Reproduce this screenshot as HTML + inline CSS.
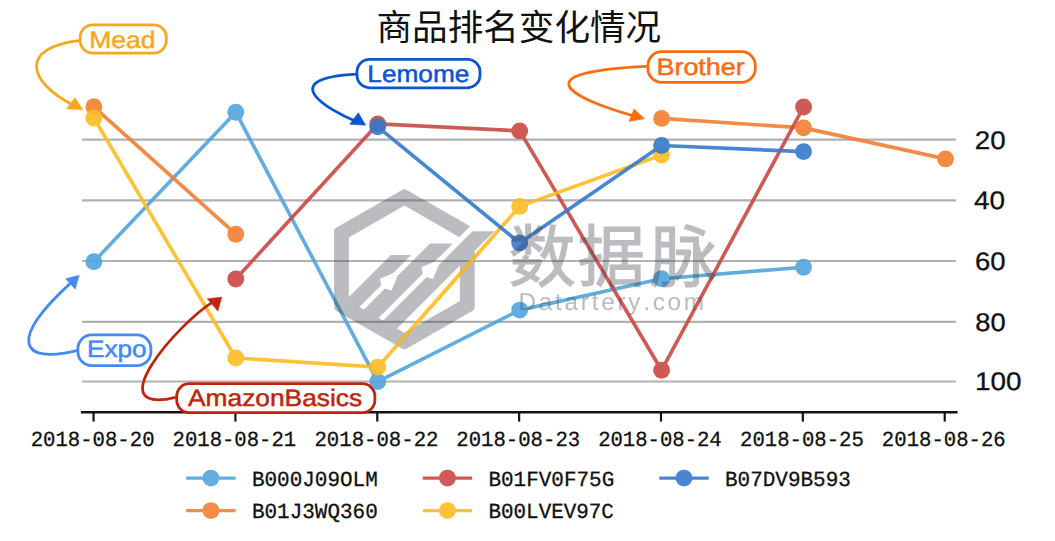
<!DOCTYPE html>
<html lang="zh"><head><meta charset="utf-8"><title>商品排名变化情况</title>
<style>html,body{margin:0;padding:0;background:#fff;overflow:hidden}svg{display:block}</style></head>
<body>
<svg width="1055" height="541" viewBox="0 0 1055 541" role="img" aria-label="商品排名变化情况">
<rect width="1055" height="541" fill="#fff"/>
<g stroke="#b1b1b1" stroke-width="2.1">
<line x1="82" x2="955.9" y1="139.60" y2="139.60"/>
<line x1="82" x2="955.9" y1="200.35" y2="200.35"/>
<line x1="82" x2="955.9" y1="261.00" y2="261.00"/>
<line x1="82" x2="955.9" y1="321.85" y2="321.85"/>
<line x1="82" x2="955.9" y1="381.45" y2="381.45"/>
</g>
<g opacity="0.90" fill="#52a5dd" stroke="#52a5dd" stroke-width="3.65" stroke-linejoin="round">
<polyline fill="none" points="93.85,261.65 235.79,112.20 377.73,381.60 519.67,310.10 661.61,278.70 803.55,267.20"/>
<circle stroke="none" cx="93.85" cy="261.65" r="8.45"/>
<circle stroke="none" cx="235.79" cy="112.20" r="8.45"/>
<circle stroke="none" cx="377.73" cy="381.60" r="8.45"/>
<circle stroke="none" cx="519.67" cy="310.10" r="8.45"/>
<circle stroke="none" cx="661.61" cy="278.70" r="8.45"/>
<circle stroke="none" cx="803.55" cy="267.20" r="8.45"/>
</g>
<g opacity="0.90" fill="#f37f30" stroke="#f37f30" stroke-width="3.65" stroke-linejoin="round">
<polyline fill="none" points="93.85,106.80 235.79,234.20"/>
<polyline fill="none" points="661.61,118.40 803.55,127.85 945.49,158.90"/>
<circle stroke="none" cx="93.85" cy="106.80" r="8.45"/>
<circle stroke="none" cx="235.79" cy="234.20" r="8.45"/>
<circle stroke="none" cx="661.61" cy="118.40" r="8.45"/>
<circle stroke="none" cx="803.55" cy="127.85" r="8.45"/>
<circle stroke="none" cx="945.49" cy="158.90" r="8.45"/>
</g>
<g opacity="0.90" fill="#ca4943" stroke="#ca4943" stroke-width="3.65" stroke-linejoin="round">
<polyline fill="none" points="235.79,278.95 377.73,123.90 519.67,130.90 661.61,370.20 803.55,107.00"/>
<circle stroke="none" cx="235.79" cy="278.95" r="8.45"/>
<circle stroke="none" cx="377.73" cy="123.90" r="8.45"/>
<circle stroke="none" cx="519.67" cy="130.90" r="8.45"/>
<circle stroke="none" cx="661.61" cy="370.20" r="8.45"/>
<circle stroke="none" cx="803.55" cy="107.00" r="8.45"/>
</g>
<g opacity="0.90" fill="#fdbc21" stroke="#fdbc21" stroke-width="3.65" stroke-linejoin="round">
<polyline fill="none" points="93.85,118.00 235.79,357.95 377.73,367.10 519.67,206.40 661.61,155.00"/>
<circle stroke="none" cx="93.85" cy="118.00" r="8.45"/>
<circle stroke="none" cx="235.79" cy="357.95" r="8.45"/>
<circle stroke="none" cx="377.73" cy="367.10" r="8.45"/>
<circle stroke="none" cx="519.67" cy="206.40" r="8.45"/>
<circle stroke="none" cx="661.61" cy="155.00" r="8.45"/>
</g>
<g opacity="0.90" fill="#347acb" stroke="#347acb" stroke-width="3.65" stroke-linejoin="round">
<polyline fill="none" points="377.73,126.80 519.67,243.00 661.61,145.50 803.55,151.60"/>
<circle stroke="none" cx="377.73" cy="126.80" r="8.45"/>
<circle stroke="none" cx="519.67" cy="243.00" r="8.45"/>
<circle stroke="none" cx="661.61" cy="145.50" r="8.45"/>
<circle stroke="none" cx="803.55" cy="151.60" r="8.45"/>
</g>
<line x1="80.9" x2="957.6" y1="412.3" y2="412.3" stroke="#141414" stroke-width="2.5"/>
<g stroke="#141414" stroke-width="2.2">
<line x1="93.56" x2="93.56" y1="412.3" y2="421.6"/>
<line x1="235.42" x2="235.42" y1="412.3" y2="421.6"/>
<line x1="377.28" x2="377.28" y1="412.3" y2="421.6"/>
<line x1="519.14" x2="519.14" y1="412.3" y2="421.6"/>
<line x1="661.00" x2="661.00" y1="412.3" y2="421.6"/>
<line x1="802.86" x2="802.86" y1="412.3" y2="421.6"/>
<line x1="944.72" x2="944.72" y1="412.3" y2="421.6"/>
</g>
<text transform="translate(30.71,446.25) scale(0.9597,1)" x="0.00 12.90 25.80 38.71 51.61 64.51 77.41 90.31 103.22 116.12" y="0" font-family='"Liberation Mono", monospace' font-size="21.50" text-rendering="geometricPrecision" fill="#111" stroke="#111" stroke-width="0.3">2018-08-20</text>
<text transform="translate(172.57,446.25) scale(0.9575,1)" x="0.00 12.90 25.80 38.71 51.61 64.51 77.41 90.31 103.22 116.12" y="0" font-family='"Liberation Mono", monospace' font-size="21.50" text-rendering="geometricPrecision" fill="#111" stroke="#111" stroke-width="0.3">2018-08-21</text>
<text transform="translate(314.43,446.25) scale(0.9612,1)" x="0.00 12.90 25.80 38.71 51.61 64.51 77.41 90.31 103.22 116.12" y="0" font-family='"Liberation Mono", monospace' font-size="21.50" text-rendering="geometricPrecision" fill="#111" stroke="#111" stroke-width="0.3">2018-08-22</text>
<text transform="translate(456.29,446.25) scale(0.9600,1)" x="0.00 12.90 25.80 38.71 51.61 64.51 77.41 90.31 103.22 116.12" y="0" font-family='"Liberation Mono", monospace' font-size="21.50" text-rendering="geometricPrecision" fill="#111" stroke="#111" stroke-width="0.3">2018-08-23</text>
<text transform="translate(598.15,446.25) scale(0.9579,1)" x="0.00 12.90 25.80 38.71 51.61 64.51 77.41 90.31 103.22 116.12" y="0" font-family='"Liberation Mono", monospace' font-size="21.50" text-rendering="geometricPrecision" fill="#111" stroke="#111" stroke-width="0.3">2018-08-24</text>
<text transform="translate(740.01,446.25) scale(0.9600,1)" x="0.00 12.90 25.80 38.71 51.61 64.51 77.41 90.31 103.22 116.12" y="0" font-family='"Liberation Mono", monospace' font-size="21.50" text-rendering="geometricPrecision" fill="#111" stroke="#111" stroke-width="0.3">2018-08-25</text>
<text transform="translate(881.87,446.25) scale(0.9602,1)" x="0.00 12.90 25.80 38.71 51.61 64.51 77.41 90.31 103.22 116.12" y="0" font-family='"Liberation Mono", monospace' font-size="21.50" text-rendering="geometricPrecision" fill="#111" stroke="#111" stroke-width="0.3">2018-08-26</text>
<text transform="translate(974.85,148.60) scale(1.0887,1)" x="0.00 14.18" y="0" font-family='"Liberation Sans", sans-serif' font-size="25.50" text-rendering="geometricPrecision" fill="#111" stroke="#111" stroke-width="0.3">20</text>
<text transform="translate(973.91,209.35) scale(1.0940,1)" x="0.00 14.18" y="0" font-family='"Liberation Sans", sans-serif' font-size="25.50" text-rendering="geometricPrecision" fill="#111" stroke="#111" stroke-width="0.3">40</text>
<text transform="translate(975.05,270.00) scale(1.0778,1)" x="0.00 14.18" y="0" font-family='"Liberation Sans", sans-serif' font-size="25.50" text-rendering="geometricPrecision" fill="#111" stroke="#111" stroke-width="0.3">60</text>
<text transform="translate(975.26,330.85) scale(1.0701,1)" x="0.00 14.18" y="0" font-family='"Liberation Sans", sans-serif' font-size="25.50" text-rendering="geometricPrecision" fill="#111" stroke="#111" stroke-width="0.3">80</text>
<text transform="translate(975.03,390.45) scale(1.0932,1)" x="0.00 14.18 28.36" y="0" font-family='"Liberation Sans", sans-serif' font-size="25.50" text-rendering="geometricPrecision" fill="#111" stroke="#111" stroke-width="0.3">100</text>
<line x1="186.20" x2="235.60" y1="478.10" y2="478.10" stroke="#63aee0" stroke-width="3.40"/>
<circle cx="210.90" cy="478.10" r="8.45" fill="#63aee0"/>
<text transform="translate(251.89,485.60) scale(0.9757,1)" x="0.00 12.90 25.80 38.71 51.61 64.51 77.41 90.31 103.22 116.12" y="0" font-family='"Liberation Mono", monospace' font-size="21.50" text-rendering="geometricPrecision" fill="#111" stroke="#111" stroke-width="0.3">B000J09OLM</text>
<line x1="186.20" x2="235.60" y1="510.60" y2="510.60" stroke="#f48c45" stroke-width="3.40"/>
<circle cx="210.90" cy="510.60" r="8.45" fill="#f48c45"/>
<text transform="translate(251.89,518.10) scale(0.9754,1)" x="0.00 12.90 25.80 38.71 51.61 64.51 77.41 90.31 103.22 116.12" y="0" font-family='"Liberation Mono", monospace' font-size="21.50" text-rendering="geometricPrecision" fill="#111" stroke="#111" stroke-width="0.3">B01J3WQ360</text>
<line x1="422.75" x2="472.15" y1="478.10" y2="478.10" stroke="#cf5b56" stroke-width="3.40"/>
<circle cx="447.45" cy="478.10" r="8.45" fill="#cf5b56"/>
<text transform="translate(488.44,485.60) scale(0.9754,1)" x="0.00 12.90 25.80 38.71 51.61 64.51 77.41 90.31 103.22 116.12" y="0" font-family='"Liberation Mono", monospace' font-size="21.50" text-rendering="geometricPrecision" fill="#111" stroke="#111" stroke-width="0.3">B01FV0F75G</text>
<line x1="422.75" x2="472.15" y1="510.60" y2="510.60" stroke="#fdc337" stroke-width="3.40"/>
<circle cx="447.45" cy="510.60" r="8.45" fill="#fdc337"/>
<text transform="translate(488.45,518.10) scale(0.9723,1)" x="0.00 12.90 25.80 38.71 51.61 64.51 77.41 90.31 103.22 116.12" y="0" font-family='"Liberation Mono", monospace' font-size="21.50" text-rendering="geometricPrecision" fill="#111" stroke="#111" stroke-width="0.3">B00LVEV97C</text>
<line x1="659.30" x2="708.70" y1="478.10" y2="478.10" stroke="#4887d0" stroke-width="3.40"/>
<circle cx="684.00" cy="478.10" r="8.45" fill="#4887d0"/>
<text transform="translate(724.99,485.60) scale(0.9757,1)" x="0.00 12.90 25.80 38.71 51.61 64.51 77.41 90.31 103.22 116.12" y="0" font-family='"Liberation Mono", monospace' font-size="21.50" text-rendering="geometricPrecision" fill="#111" stroke="#111" stroke-width="0.3">B07DV9B593</text>
<path d="M80.70,40.30 C18.28,47.35 27.88,81.97 73.28,105.20" fill="none" stroke="#f5a81d" stroke-width="2.80"/><path d="M82.84,109.74L75.02,97.74L66.48,108.66Z" fill="#f5a81d" stroke="#f5a81d" stroke-width="0.6" stroke-linejoin="round"/>
<path d="M356.50,74.10 C274.52,78.48 327.29,109.48 356.19,121.50" fill="none" stroke="#0b55d4" stroke-width="2.80"/><path d="M365.63,125.15L358.32,112.74L349.78,124.16Z" fill="#0b55d4" stroke="#0b55d4" stroke-width="0.6" stroke-linejoin="round"/>
<path d="M647.40,66.30 C506.13,72.62 589.48,103.86 634.58,116.08" fill="none" stroke="#f96d10" stroke-width="2.80"/><path d="M644.48,118.63L634.08,108.91L629.02,121.39Z" fill="#f96d10" stroke="#f96d10" stroke-width="0.6" stroke-linejoin="round"/>
<path d="M77.80,350.40 C19.53,364.53 7.54,340.44 72.14,281.64" fill="none" stroke="#4489f4" stroke-width="2.80"/><path d="M79.16,275.35L65.66,278.75L75.24,289.15Z" fill="#4489f4" stroke="#4489f4" stroke-width="0.6" stroke-linejoin="round"/>
<path d="M175.70,397.40 C97.56,416.15 177.37,323.63 213.72,301.34" fill="none" stroke="#c0250b" stroke-width="2.80"/><path d="M221.68,297.18L207.27,298.75L217.83,311.05Z" fill="#c0250b" stroke="#c0250b" stroke-width="0.6" stroke-linejoin="round"/>
<rect x="80.20" y="24.90" width="86.10" height="28.20" rx="12.60" ry="12.60" fill="#fff" stroke="#f5a81d" stroke-width="2.80"/><text transform="translate(89.17,47.65) scale(1.1151,1)" x="0.00 19.83 33.06 46.30" y="0" font-family='"Liberation Sans", sans-serif' font-size="23.80" text-rendering="geometricPrecision" fill="#f5a81d" stroke="#f5a81d" stroke-width="0.5">Mead</text>
<rect x="357.00" y="59.40" width="123.00" height="28.40" rx="12.60" ry="12.60" fill="#fff" stroke="#0b55d4" stroke-width="2.80"/><text transform="translate(367.30,81.75) scale(1.1028,1)" x="0.00 13.24 26.47 46.30 59.53 79.36" y="0" font-family='"Liberation Sans", sans-serif' font-size="23.80" text-rendering="geometricPrecision" fill="#0b55d4" stroke="#0b55d4" stroke-width="0.5">Lemome</text>
<rect x="647.90" y="51.70" width="107.40" height="30.60" rx="13.80" ry="13.80" fill="#fff" stroke="#f96d10" stroke-width="2.80"/><text transform="translate(656.44,74.75) scale(1.1321,1)" x="0.00 15.87 23.80 37.04 43.65 56.89 70.12" y="0" font-family='"Liberation Sans", sans-serif' font-size="23.80" text-rendering="geometricPrecision" fill="#f96d10" stroke="#f96d10" stroke-width="0.5">Brother</text>
<rect x="77.90" y="334.90" width="73.00" height="30.70" rx="13.80" ry="13.80" fill="#fff" stroke="#4489f4" stroke-width="2.80"/><text transform="translate(87.00,356.65) scale(1.0995,1)" x="0.00 15.87 27.77 41.01" y="0" font-family='"Liberation Sans", sans-serif' font-size="23.80" text-rendering="geometricPrecision" fill="#4489f4" stroke="#4489f4" stroke-width="0.5">Expo</text>
<rect x="176.70" y="383.70" width="198.20" height="28.90" rx="12.60" ry="12.60" fill="#fff" stroke="#c0250b" stroke-width="2.80"/><text transform="translate(188.00,406.05) scale(1.1067,1)" x="0.00 15.87 35.70 48.94 60.84 74.07 87.31 103.18 116.42 128.32 133.61 145.51" y="0" font-family='"Liberation Sans", sans-serif' font-size="23.80" text-rendering="geometricPrecision" fill="#c0250b" stroke="#c0250b" stroke-width="0.5">AmazonBasics</text>
<text x="376.5" y="40.2" font-family='"Liberation Sans", "Noto Sans CJK SC", sans-serif' font-size="35.6" fill="#111">商品排名变化情况</text>
<defs><mask id="wm" maskUnits="userSpaceOnUse" x="320" y="175" width="400" height="185"><rect x="320" y="175" width="400" height="185" fill="#000"/><path d="M404.40,193.22L470.73,231.21L470.73,307.19L404.40,345.18L338.07,307.19L338.07,231.21Z" fill="#fff" stroke="#fff" stroke-width="8.00" stroke-linejoin="round"/><path d="M404.40,205.60L459.92,237.40L459.92,301.00L404.40,332.80L348.88,301.00L348.88,237.40Z" fill="#000"/><path d="M481.40,215.00L494.80,215.00L460.30,243.50L452.90,243.50Z" fill="#000"/><path d="M390.90,255.10L411.20,255.10L354.16,312.14L342.15,305.20L342.15,303.85Z" fill="#fff"/><path d="M430.00,243.50L452.90,243.50L373.25,323.15L358.73,314.77Z" fill="#fff"/><path d="M472.60,231.20L494.40,231.20L391.76,333.84L377.94,325.86Z" fill="#fff"/><path d="M393.72,272.89L379.72,278.69L381.56,285.06L385.09,288.59L391.46,290.43L397.26,276.43Z" fill="#000"/><path d="M435.22,261.44L421.22,267.24L423.06,273.61L426.59,277.14L432.96,278.98L438.76,264.98Z" fill="#000"/><text x="508.43 577.85 650.08" y="281" font-family='"Liberation Sans", "Noto Sans CJK SC", sans-serif' font-size="67.2" fill="#fff" stroke="#fff" stroke-width="1.2">数据脉</text><text transform="translate(518.51,310.30) scale(1.0000,1)" x="0.00 20.30 36.56 46.07 62.33 73.17 82.68 98.94 109.78 124.69 134.19 149.09 165.35" y="0" font-family='"Liberation Sans", sans-serif' font-size="24.30" text-rendering="geometricPrecision" fill="#fff">Datartery.com</text></mask></defs><rect x="320" y="175" width="400" height="185" fill="#3f454e" fill-opacity="0.36" mask="url(#wm)"/>
<clipPath id="lg"><rect x="330" y="186" width="166" height="166"/></clipPath>
<line clip-path="url(#lg)" x1="377.73" y1="367.10" x2="519.67" y2="206.40" stroke="#fdc337" stroke-width="3.65" stroke-opacity="0.78"/>
</svg>
</body></html>
